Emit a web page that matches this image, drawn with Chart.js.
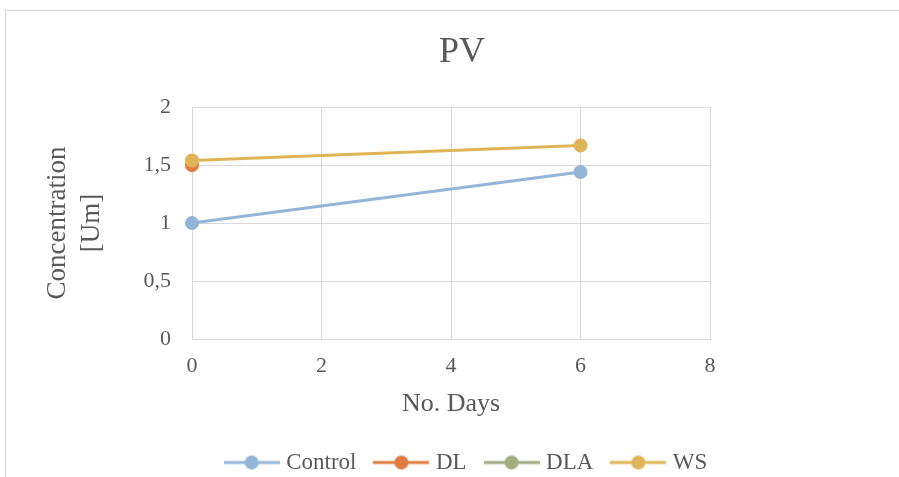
<!DOCTYPE html>
<html>
<head>
<meta charset="utf-8">
<script src="https://cdn.jsdelivr.net/npm/chart.js@4/dist/chart.umd.min.js"></script>
<style>
    body { margin: 0; background: #ffffff; }
    #frame { position: absolute; left: 5px; top: 10px; width: 1000px; height: 1000px;
             border-left: 1px solid #d6d6d6; border-top: 1px solid #d6d6d6; }
    #pv-chart { position: absolute; left: 0; top: 0; }
</style>
</head>
<body>
<div id="frame"></div>
<canvas id="pv-chart" width="899" height="477"></canvas>
<script>
// values
var days = [0, 6];
var seriesNames = ["Control", "DL", "DLA", "WS"];
var control = [1.0, 1.44];
var dl = [1.5, null];
var dla = [null, null];
var ws = [1.54, 1.67];
var xTickLabels = ["0", "2", "4", "6", "8"];
var yTickLabels = ["0", "0,5", "1", "1,5", "2"];

var seriesColors = ["#93b5d8", "#e07b3f", "#a3ac7e", "#dfb457"];
var textColor = "#595959";
var gridColor = "#d9d9d9";
var fontFamily = "'Liberation Serif', 'Times New Roman', serif";

function toPoints(values) {
    return days.map(function (d, i) {
        return {x: d, y: values[i]};
    });
}

// line + dot icon like the spreadsheet legend
function legendIcon(color) {
    var c = document.createElement("canvas");
    c.width = 56;
    c.height = 16;
    var ctx = c.getContext("2d");
    ctx.strokeStyle = color;
    ctx.lineWidth = 3;
    ctx.beginPath();
    ctx.moveTo(0, 8);
    ctx.lineTo(56, 8);
    ctx.stroke();
    ctx.fillStyle = color;
    ctx.beginPath();
    ctx.arc(28, 8, 7, 0, Math.PI * 2);
    ctx.fill();
    return c;
}

// legend sits a little right of the title centre in the original
var nudgeLegend = {
    id: "nudgeLegend",
    afterLayout: function (chart) {
        chart.legend.left += 6;
        chart.legend.right += 6;
    }
};

var allValues = [control, dl, dla, ws];
var drawOrder = [1, 2, 3, 0];   // WS on top

var datasets = seriesNames.map(function (name, i) {
    return {
        label: name,
        data: toPoints(allValues[i]),
        borderColor: seriesColors[i],
        backgroundColor: seriesColors[i],
        borderWidth: 3,
        pointRadius: 7,
        pointHoverRadius: 7,
        pointBorderWidth: 0,
        pointBackgroundColor: seriesColors[i],
        order: drawOrder[i],
        clip: false
    };
});

new Chart(document.getElementById("pv-chart"), {
    type: "line",
    data: {datasets: datasets},
    plugins: [nudgeLegend],
    options: {
        responsive: false,
        animation: false,
        layout: {padding: {left: 25, right: 0, top: 0, bottom: -7}},
        plugins: {
            title: {
                display: true,
                text: "PV",
                color: textColor,
                font: {family: fontFamily, size: 36, weight: "normal"},
                padding: {top: 31, bottom: 33}
            },
            legend: {
                position: "bottom",
                labels: {
                    color: textColor,
                    font: {family: fontFamily, size: 23},
                    usePointStyle: true,
                    pointStyleWidth: 46,
                    padding: 22,
                    generateLabels: function (chart) {
                        return chart.data.datasets.map(function (ds, i) {
                            return {
                                text: ds.label,
                                fontColor: textColor,
                                pointStyle: legendIcon(seriesColors[i]),
                                datasetIndex: i,
                                hidden: false,
                                lineWidth: 0
                            };
                        });
                    }
                }
            },
            tooltip: {enabled: false}
        },
        scales: {
            x: {
                type: "linear",
                min: 0,
                max: 8,
                ticks: {
                    stepSize: 2,
                    color: textColor,
                    font: {family: fontFamily, size: 22},
                    padding: 14,
                    callback: function (v, i) { return xTickLabels[i]; }
                },
                grid: {color: gridColor, drawTicks: false},
                border: {color: gridColor},
                title: {
                    display: true,
                    text: "No. Days",
                    color: textColor,
                    font: {family: fontFamily, size: 26},
                    padding: {top: 0, bottom: 9}
                },
                afterFit: function (scale) { scale.height = 90; }
            },
            y: {
                min: 0,
                max: 2,
                ticks: {
                    stepSize: 0.5,
                    color: textColor,
                    font: {family: fontFamily, size: 22},
                    padding: 21,
                    callback: function (v, i) { return yTickLabels[i]; }
                },
                grid: {color: gridColor, drawTicks: false},
                border: {color: gridColor},
                title: {
                    display: true,
                    text: ["Concentration", "[Um]"],
                    color: textColor,
                    font: {family: fontFamily, size: 27, lineHeight: 1.25},
                    padding: {top: 16, bottom: 0}
                },
                afterFit: function (scale) { scale.width = 167; }
            },
            spacer: {
                position: "right",
                display: true,
                grid: {display: false},
                ticks: {display: false},
                border: {display: false},
                afterFit: function (scale) { scale.width = 189; }
            }
        }
    }
});
</script>
</body>
</html>
